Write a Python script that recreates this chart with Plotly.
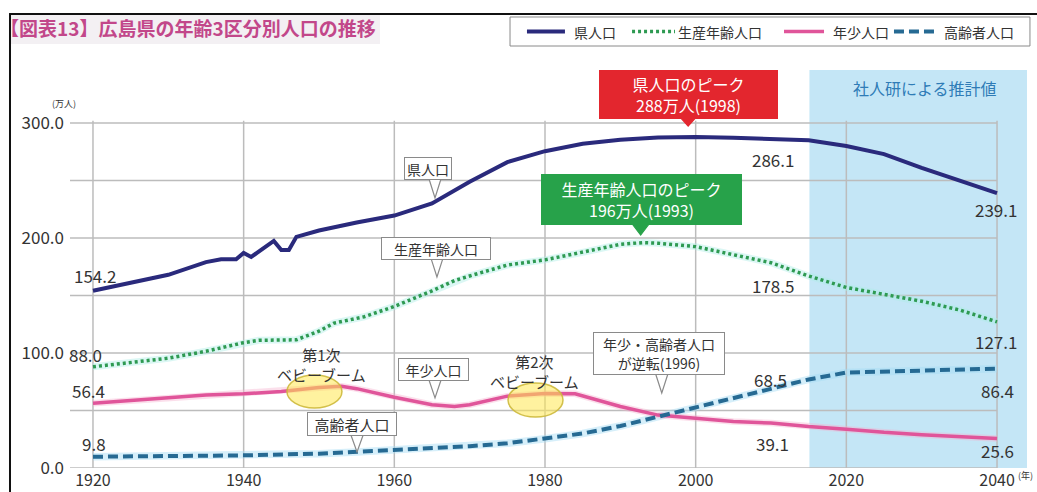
import plotly.graph_objects as go

# ---------------- data (万人) ----------------
years_total = [1920, 1925, 1930, 1935, 1937, 1939, 1940, 1941, 1944, 1945, 1946, 1947, 1950, 1955, 1960,
               1965, 1970, 1975, 1980, 1985, 1990, 1995, 1998, 2000, 2005, 2010, 2015, 2020, 2025,
               2030, 2035, 2040]
total = [154.2, 161.0, 168.0, 179.0, 181.5, 181.5, 187.0, 183.5, 197.5, 189.5, 189.5, 201.0, 206.5, 213.5,
         219.5, 230.0, 249.0, 266.0, 275.5, 282.0, 285.5, 287.5, 288.0, 287.8, 287.2, 286.1, 285.0,
         280.0, 273.0, 261.0, 250.0, 239.1]

years_work = [1920, 1925, 1930, 1935, 1940, 1942, 1947, 1950, 1952, 1956, 1960, 1965, 1968, 1970, 1975,
              1980, 1985, 1990, 1993, 1995, 2000, 2005, 2010, 2015, 2020, 2025, 2030, 2035, 2040]
working = [88.0, 91.5, 95.5, 101.5, 109.0, 111.0, 111.5, 119.0, 126.0, 131.5, 140.5, 154.0, 163.0, 167.0,
           176.5, 181.0, 187.5, 194.5, 196.0, 195.5, 192.5, 185.5, 178.5, 167.0, 157.0, 151.0, 145.0,
           137.5, 127.1]

years_young = [1920, 1925, 1930, 1935, 1940, 1945, 1950, 1953, 1955, 1960, 1965, 1968, 1970, 1975, 1980,
               1984, 1990, 1995, 2000, 2005, 2010, 2015, 2020, 2025, 2030, 2035, 2040]
young = [56.4, 58.5, 61.0, 63.5, 64.5, 66.5, 70.0, 71.0, 69.0, 61.5, 55.0, 53.5, 55.0, 62.5, 64.7, 64.5,
         53.5, 46.0, 43.0, 40.5, 39.1, 36.0, 33.8, 31.0, 29.0, 27.3, 25.6]

years_old = [1920, 1930, 1940, 1950, 1955, 1960, 1965, 1970, 1975, 1980, 1985, 1990, 1995, 2000, 2005,
             2010, 2015, 2020, 2025, 2030, 2035, 2040]
old = [9.8, 10.2, 11.0, 12.5, 14.0, 15.5, 17.5, 19.0, 21.5, 25.5, 30.0, 36.5, 44.5, 52.5, 60.5, 68.5,
       77.0, 83.0, 83.8, 84.5, 85.0, 86.4]

series_names = ["県人口", "生産年齢人口", "年少人口", "高齢者人口"]
series_colors = ["#2a2a7c", "#2e9a52", "#e0559a", "#266a93"]
series_dash = ["solid", "3px,3px", "solid", "10px,5px"]
series_width = [4, 3.5, 3.5, 4]
x_ticks = [1920, 1940, 1960, 1980, 2000, 2020, 2040]
y_ticks = [0, 100, 200, 300]
y_ticklabels = ["0.0", "100.0", "200.0", "300.0"]
grid_y = [0, 50, 100, 150, 200, 250, 300]
projection_start = 2015

# ---------------- figure ----------------
FONT = "Noto Sans CJK JP"
TXT = "#333333"
X0, X1 = 1916.95, 2043.98
Y0, Y1 = 0, 346.1

fig = go.Figure()

# soft halos under the lines
fig.add_trace(go.Scatter(x=years_work, y=working, mode="lines", showlegend=False, hoverinfo="skip",
                         line=dict(color="rgba(175,238,230,0.45)", width=7)))
fig.add_trace(go.Scatter(x=years_old, y=old, mode="lines", showlegend=False, hoverinfo="skip",
                         line=dict(color="rgba(165,220,245,0.45)", width=7.5)))
fig.add_trace(go.Scatter(x=years_young, y=young, mode="lines", showlegend=False, hoverinfo="skip",
                         line=dict(color="rgba(245,175,205,0.4)", width=6.5)))

for xs, ys, i in [(years_total, total, 0), (years_work, working, 1), (years_young, young, 2),
                  (years_old, old, 3)]:
    fig.add_trace(go.Scatter(x=xs, y=ys, mode="lines", name=series_names[i], showlegend=False,
                             line=dict(color=series_colors[i], width=series_width[i],
                                       dash=series_dash[i])))

shapes = []
# projection shading
shapes.append(dict(type="rect", xref="x", yref="paper", x0=projection_start + 0.1, x1=X1, y0=0, y1=1,
                   fillcolor="#c4e6f6", line=dict(width=0), layer="below"))
# gridlines
for gy in grid_y:
    shapes.append(dict(type="line", xref="x", yref="y", x0=X0, x1=2040, y0=gy, y1=gy,
                       line=dict(color="#bcbcbc", width=1.5), layer="below"))
for gx in x_ticks:
    shapes.append(dict(type="line", xref="x", yref="y", x0=gx, x1=gx, y0=0, y1=302,
                       line=dict(color="#bcbcbc", width=1.5), layer="below"))

# frame + title band (paper coords)
shapes.append(dict(type="rect", xref="paper", yref="paper", x0=-0.0627, x1=0.3239, y0=1.0653, y1=1.1407,
                   fillcolor="#f3f0f3", line=dict(width=0), layer="below"))
shapes.append(dict(type="line", xref="paper", yref="paper", x0=-0.0637, x1=1.02, y0=1.1407, y1=1.1407,
                   line=dict(color="#111111", width=2)))
shapes.append(dict(type="line", xref="paper", yref="paper", x0=-0.0627, x1=-0.0627, y0=-0.07, y1=1.1407,
                   line=dict(color="#111111", width=2)))

# legend box (drawn by hand)
shapes.append(dict(type="rect", xref="paper", yref="paper", x0=0.4598, x1=1.0031, y0=1.0603, y1=1.1332,
                   fillcolor="white", line=dict(color="#8a8a8a", width=1)))
leg_line_x = [(0.4775, 0.5172), (0.5873, 0.6322), (0.7461, 0.7879), (0.8610, 0.9060)]
leg_text_x = [0.5246, 0.6332, 0.7952, 0.9112]
LEG_Y = 1.0967
for i in range(4):
    shapes.append(dict(type="line", xref="paper", yref="paper", x0=leg_line_x[i][0], x1=leg_line_x[i][1],
                       y0=LEG_Y, y1=LEG_Y,
                       line=dict(color=series_colors[i], width=series_width[i], dash=series_dash[i])))

# callout tails (V shapes)
def tail(xc, ybase, xt, yt, hw, fill, line):
    return dict(type="path", xref="x", yref="y",
                path=f"M {xc-hw},{ybase} L {xt},{yt} L {xc+hw},{ybase} Z",
                fillcolor=fill, line=dict(color=line, width=1.2), layer="above")

shapes.append(tail(1999.0, 306, 1999.0, 297.4, 1.2, "#e3262e", "#e3262e"))
shapes.append(tail(1992.7, 213, 1992.7, 202.6, 1.2, "#27a24a", "#27a24a"))
shapes.append(tail(1965.4, 251.5, 1965.4, 234.8, 0.8, "white", "#8a8a8a"))
shapes.append(tail(1965.66, 182.5, 1965.66, 166.1, 0.8, "white", "#8a8a8a"))
shapes.append(tail(1965.4, 76.5, 1965.4, 60.9, 0.8, "white", "#8a8a8a"))
shapes.append(tail(1955.05, 28.5, 1955.05, 13.9, 0.8, "white", "#8a8a8a"))
shapes.append(tail(1995.5, 81.5, 1995.5, 65.2, 0.8, "white", "#8a8a8a"))

# baby boom ellipses
shapes.append(dict(type="circle", xref="x", yref="y", x0=1945.75, x1=1953.05, y0=52.2, y1=80.9,
                   fillcolor="rgba(255,232,80,0.55)", line=dict(color="rgba(205,185,60,0.9)", width=1.5),
                   layer="above"))
shapes.append(dict(type="circle", xref="x", yref="y", x0=1975.09, x1=1982.39, y0=44.3, y1=73.9,
                   fillcolor="rgba(255,232,80,0.55)", line=dict(color="rgba(205,185,60,0.9)", width=1.5),
                   layer="above"))

ann = []
for i in range(4):
    ann.append(dict(x=leg_text_x[i], y=LEG_Y, xref="paper", yref="paper", xanchor="left", yanchor="middle",
                    text=series_names[i], showarrow=False, font=dict(family=FONT, size=14, color=TXT)))

def box(x, y, text, w, h, bg, fg, border, size, pad=2):
    ann.append(dict(x=x, y=y, xref="x", yref="y", text=text, showarrow=False, width=w, height=h,
                    bgcolor=bg, bordercolor=border, borderwidth=1, borderpad=pad,
                    font=dict(family=FONT, size=size, color=fg), align="center", valign="middle"))

box(1999.0, 325.2, "県人口のピーク<br>288万人(1998)", 175, 45, "#e3262e", "white", "#e3262e", 16, 1)
box(1992.8, 233.5, "生産年齢人口のピーク<br>196万人(1993)", 197, 47, "#27a24a", "white", "#27a24a", 16, 1)
box(1964.47, 260.4, "県人口", 44, 19, "white", TXT, "#8a8a8a", 14, 1)
box(1965.5, 191.3, "生産年齢人口", 106, 19, "white", TXT, "#8a8a8a", 14, 1)
box(1965.2, 85.7, "年少人口", 67, 19, "white", TXT, "#8a8a8a", 14, 1)
box(1954.4, 38.3, "高齢者人口", 86, 20, "white", TXT, "#8a8a8a", 15, 1)
box(1995.1, 99.6, "年少・高齢者人口<br>が逆転(1996)", 128, 39, "white", TXT, "#8a8a8a", 14, 1)

def label(x, y, text, size=17, color=TXT):
    ann.append(dict(x=x, y=y, xref="x", yref="y", text=text, showarrow=False,
                    font=dict(family=FONT, size=size, color=color)))

label(1950.27, 90.4, "第1次<br>ベビーブーム", 15)
label(1978.54, 84.3, "第2次<br>ベビーブーム", 15)
label(2030.45, 330.4, "社人研による推計値", 16, "#2f7cb6")

# value labels
label(1920.27, 167.0, "154.2")
label(1919.07, 99.1, "88.0")
label(1919.34, 67.8, "56.4")
label(1920.13, 20.9, "9.8")
label(2010.2, 268.7, "286.1")
label(2039.87, 225.2, "239.1")
label(2010.2, 159.1, "178.5")
label(2039.87, 110.4, "127.1")
label(2040.0, 67.8, "86.4")
label(2009.9, 77.0, "68.5")
label(2010.14, 20.9, "39.1")
label(2040.0, 14.8, "25.6")

# title, units
ann.append(dict(x=-0.075, y=1.108, xref="paper", yref="paper", xanchor="left", yanchor="middle",
                text="<b>【図表13】広島県の年齢3区分別人口の推移</b>", showarrow=False,
                font=dict(family=FONT, size=19, color="#c2478a")))
ann.append(dict(x=-0.021, y=0.936, xref="paper", yref="paper", text="(万人)", showarrow=False,
                font=dict(family=FONT, size=9, color=TXT)))
ann.append(dict(x=0.9885, y=-0.04, xref="paper", yref="paper", xanchor="left", text="(年)",
                showarrow=False, font=dict(family=FONT, size=9, color=TXT)))

fig.update_layout(
    width=1037, height=492,
    margin=dict(l=70, r=10, t=70, b=24, autoexpand=False),
    paper_bgcolor="white", plot_bgcolor="white",
    font=dict(family=FONT, color=TXT),
    shapes=shapes, annotations=ann,
    showlegend=False,
    xaxis=dict(range=[X0, X1], tickvals=x_ticks, showgrid=False, zeroline=False, showline=False,
               automargin=False, ticks="", tickfont=dict(family=FONT, size=16, color=TXT),
               ticklabelstandoff=1),
    yaxis=dict(range=[Y0, Y1], tickvals=y_ticks, ticktext=y_ticklabels, showgrid=False, zeroline=False,
               showline=False, automargin=False, ticks="", tickfont=dict(family=FONT, size=17, color=TXT),
               ticklabelstandoff=5),
)

fig.write_html("out.html", config={"displayModeBar": False},
               post_script="document.body.style.margin='0';document.body.style.overflow='hidden';")
